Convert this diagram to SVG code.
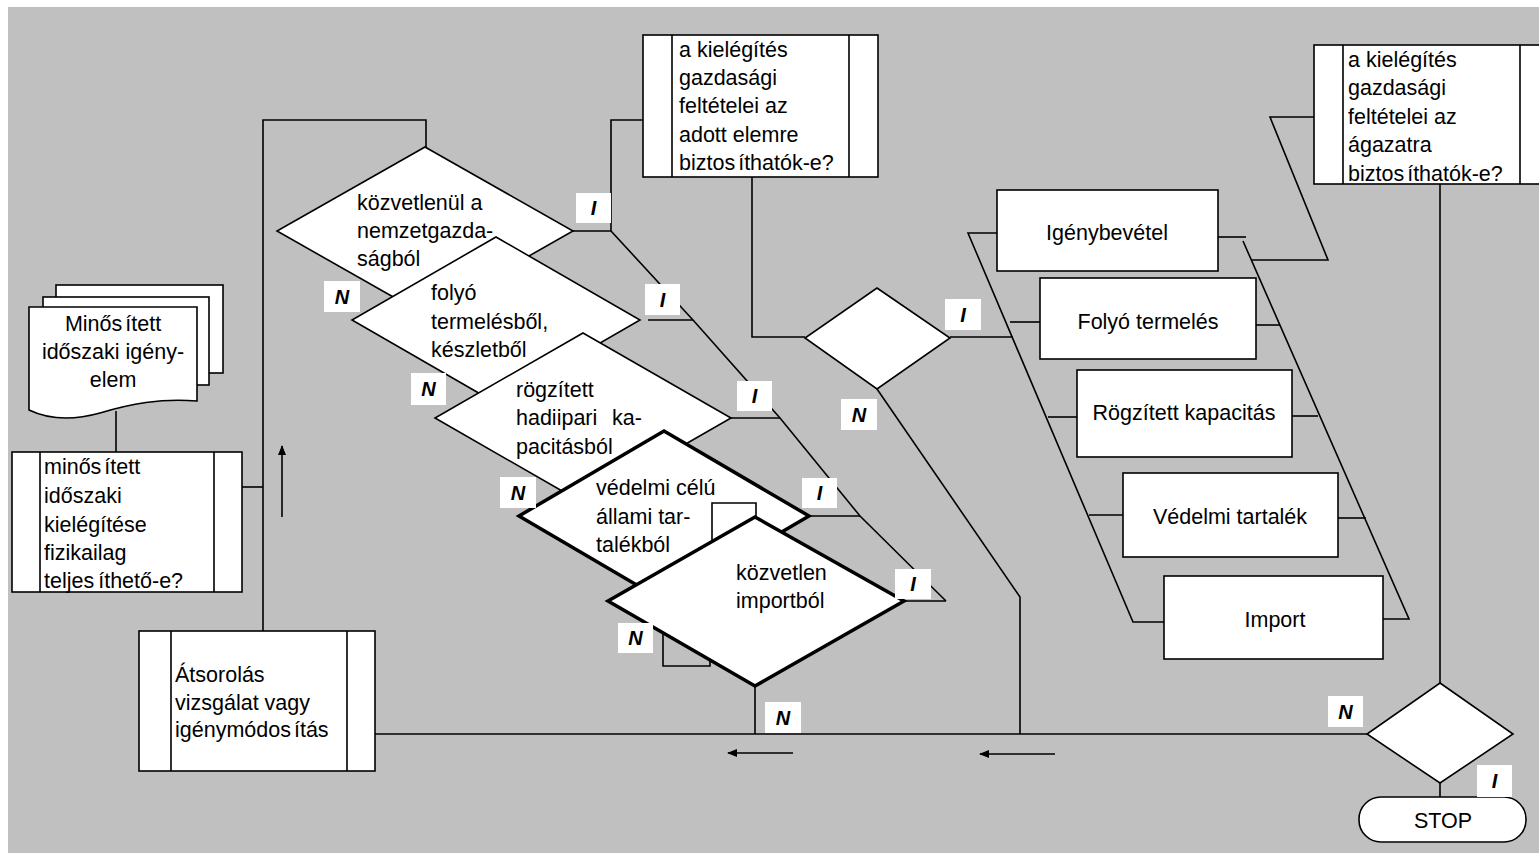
<svg xmlns="http://www.w3.org/2000/svg" width="1539" height="853" viewBox="0 0 1539 853">
<defs>
<style>
.bg{fill:#c0c0c0}
.box{fill:#fff;stroke:#000;stroke-width:1.6}
.thick{fill:#fff;stroke:#000;stroke-width:3.5;stroke-linejoin:miter}
.ln{fill:none;stroke:#000;stroke-width:1.6}
.t{font-family:"Liberation Sans",Arial,sans-serif;font-size:21.5px;fill:#000}
.c{text-anchor:middle}
.lbl{fill:#fff}
.lt{font-family:"Liberation Sans",Arial,sans-serif;font-size:20px;font-weight:bold;font-style:italic;text-anchor:middle;fill:#000}
</style>
<marker id="ah" viewBox="0 0 10 10" refX="9" refY="5" markerWidth="10" markerHeight="10" markerUnits="userSpaceOnUse" orient="auto">
<path d="M0,1 L10,5 L0,9 z" fill="#000"/>
</marker>
</defs>

<rect class="bg" x="8" y="7" width="1531" height="846"/>

<!-- flow lines -->
<g id="connectors">
<path class="ln" d="M263,631 V120 H426 V147"/>
<path class="ln" d="M242,487 H263"/>
<path class="ln" d="M116,411 V452"/>
<path class="ln" d="M375,734 H1367"/>
<path class="ln" d="M755,686 V734"/>
<path class="ln" d="M573,231 H611 V120 H643"/>
<path class="ln" d="M611,231 L693,320 L780,418 L860,516 L946,601"/>
<path class="ln" d="M648,320 H693"/>
<path class="ln" d="M731,418 H780"/>
<path class="ln" d="M811,516 H860"/>
<path class="ln" d="M904,601 H946"/>
<path class="ln" d="M752,177 V337 H805"/>
<path class="ln" d="M950,337 H1013"/>
<path class="ln" d="M997,233 H968 L1133,622 H1164"/>
<path class="ln" d="M1010,322 H1040"/>
<path class="ln" d="M1048,417 H1077"/>
<path class="ln" d="M1089,515 H1123"/>
<path class="ln" d="M877,389 L1020,597 V734"/>
<path class="ln" d="M1218,237 H1246"/>
<path class="ln" d="M1243,241 L1409,619 H1383"/>
<path class="ln" d="M1256,325 H1280"/>
<path class="ln" d="M1292,416 H1318"/>
<path class="ln" d="M1338,518 H1366"/>
<path class="ln" d="M1314,117 H1270 L1328,260 H1252"/>
<path class="ln" d="M1440,184 V683"/>
<path class="ln" d="M1440,783 V797"/>
<path class="ln" d="M282,517 V446" marker-end="url(#ah)"/>
<path class="ln" d="M793,753 H728" marker-end="url(#ah)"/>
<path class="ln" d="M1055,754 H980" marker-end="url(#ah)"/>
</g>

<g id="doc-igenyelem">
<rect class="box" x="56" y="285" width="167" height="88"/>
<rect class="box" x="43" y="297" width="166" height="88"/>
<path class="box" d="M29,307 H197 V401 C160,398 130,404 100,413 C75,420 50,420 29,410 Z"/>
<text class="t c" x="113" y="331">Minős<tspan dx="3">ített</tspan></text>
<text class="t c" x="113" y="359">időszaki igény-</text>
<text class="t c" x="113" y="387">elem</text>
</g>

<g id="box-fizikai">
<rect class="box" x="12" y="452" width="230" height="140"/>
<path class="ln" d="M40,452 V592 M214,452 V592"/>
<text class="t" x="44" y="474">minős<tspan dx="3">ített</tspan></text>
<text class="t" x="44" y="503">időszaki</text>
<text class="t" x="44" y="532">kielégítése</text>
<text class="t" x="44" y="560">fizikailag</text>
<text class="t" x="44" y="588">teljes<tspan dx="4">íthető-e?</tspan></text>
</g>

<g id="box-atsorolas">
<rect class="box" x="139" y="631" width="236" height="140"/>
<path class="ln" d="M171,631 V771 M347,631 V771"/>
<text class="t" x="175" y="682">Átsorolás</text>
<text class="t" x="175" y="710">vizsgálat vagy</text>
<text class="t" x="175" y="737">igénymódos<tspan dx="3">ítás</tspan></text>
</g>

<g id="d1">
<polygon class="box" points="425,147 573,231 425,315 277,231"/>
<text class="t" x="357" y="210">közvetlenül a</text>
<text class="t" x="357" y="238">nemzetgazda-</text>
<text class="t" x="357" y="266">ságból</text>
</g>

<g id="d2">
<polygon class="box" points="496,237 640,320 496,403 352,320"/>
<text class="t" x="431" y="300">folyó</text>
<text class="t" x="431" y="329">termelésből,</text>
<text class="t" x="431" y="357">készletből</text>
</g>

<g id="d3">
<polygon class="box" points="583,333 731,418 583,503 435,418"/>
<text class="t" x="516" y="397">rögzített</text>
<text class="t" x="516" y="425">hadiipari<tspan x="612">ka-</tspan></text>
<text class="t" x="516" y="454">pacitásból</text>
</g>

<g id="d4">
<polygon class="thick" points="664,431 809,516 664,601 519,516"/>
<text class="t" x="596" y="495">védelmi célú</text>
<text class="t" x="596" y="524">állami tar-</text>
<text class="t" x="596" y="552">talékból</text>
<path class="ln" d="M712,540 V503 H756 V517"/>
</g>

<g id="d5">
<polygon class="thick" points="755,517 904,601 755,686 608,601"/>
<text class="t" x="736" y="580">közvetlen</text>
<text class="t" x="736" y="608">importból</text>
<path class="ln" d="M663,633 V666 H710 V660"/>
</g>

<g id="box-elem">
<rect class="box" x="643" y="35" width="235" height="142"/>
<path class="ln" d="M672,35 V177 M849,35 V177"/>
<text class="t" x="679" y="57">a kielégítés</text>
<text class="t" x="679" y="85">gazdasági</text>
<text class="t" x="679" y="113">feltételei az</text>
<text class="t" x="679" y="142">adott elemre</text>
<text class="t" x="679" y="170">biztos<tspan dx="3">íthatók-e?</tspan></text>
</g>

<g id="d-elem">
<polygon class="box" points="877,288 950,338 877,389 805,338"/>
</g>

<g id="box-igenybevetel">
<rect class="box" x="997" y="190" width="221" height="81"/>
<text class="t c" x="1107" y="240">Igénybevétel</text>
</g>
<g id="box-folyo">
<rect class="box" x="1040" y="278" width="216" height="81"/>
<text class="t c" x="1148" y="329">Folyó termelés</text>
</g>
<g id="box-rogzitett">
<rect class="box" x="1077" y="370" width="215" height="87"/>
<text class="t c" x="1184" y="420">Rögzített kapacitás</text>
</g>
<g id="box-vedelmi">
<rect class="box" x="1123" y="473" width="215" height="84"/>
<text class="t c" x="1230" y="524">Védelmi tartalék</text>
</g>
<g id="box-import">
<rect class="box" x="1164" y="576" width="219" height="83"/>
<text class="t c" x="1275" y="627">Import</text>
</g>

<g id="box-agazat">
<rect class="box" x="1314" y="45" width="235" height="139"/>
<path class="ln" d="M1343,45 V184 M1520,45 V184"/>
<text class="t" x="1348" y="67">a kielégítés</text>
<text class="t" x="1348" y="95">gazdasági</text>
<text class="t" x="1348" y="124">feltételei az</text>
<text class="t" x="1348" y="152">ágazatra</text>
<text class="t" x="1348" y="181">biztos<tspan dx="3">íthatók-e?</tspan></text>
</g>

<g id="d-agazat">
<polygon class="box" points="1440,683 1513,734 1440,783 1367,734"/>
</g>

<g id="stop">
<rect class="box" x="1359" y="797" width="167" height="45" rx="22" ry="22"/>
<text class="t c" x="1443" y="828">STOP</text>
</g>

<g id="labels">
<rect class="lbl" x="576" y="193" width="35" height="30"/><text class="lt" x="593.5" y="215">I</text>
<rect class="lbl" x="645" y="284" width="35" height="31"/><text class="lt" x="662.5" y="307">I</text>
<rect class="lbl" x="737" y="381" width="35" height="30"/><text class="lt" x="754.5" y="403">I</text>
<rect class="lbl" x="802" y="478" width="35" height="30"/><text class="lt" x="819.5" y="500">I</text>
<rect class="lbl" x="895" y="569" width="36" height="30"/><text class="lt" x="913" y="591">I</text>
<rect class="lbl" x="945" y="299" width="36" height="31"/><text class="lt" x="963" y="322">I</text>
<rect class="lbl" x="1477" y="765" width="35" height="32"/><text class="lt" x="1494.5" y="788">I</text>
<rect class="lbl" x="324" y="281" width="36" height="31"/><text class="lt" x="342" y="304">N</text>
<rect class="lbl" x="411" y="373" width="35" height="32"/><text class="lt" x="428.5" y="396">N</text>
<rect class="lbl" x="500" y="477" width="36" height="31"/><text class="lt" x="518" y="500">N</text>
<rect class="lbl" x="618" y="623" width="35" height="30"/><text class="lt" x="635.5" y="645">N</text>
<rect class="lbl" x="765" y="702" width="36" height="31"/><text class="lt" x="783" y="725">N</text>
<rect class="lbl" x="841" y="399" width="36" height="31"/><text class="lt" x="859" y="422">N</text>
<rect class="lbl" x="1328" y="696" width="35" height="31"/><text class="lt" x="1345.5" y="719">N</text>
</g>
</svg>
